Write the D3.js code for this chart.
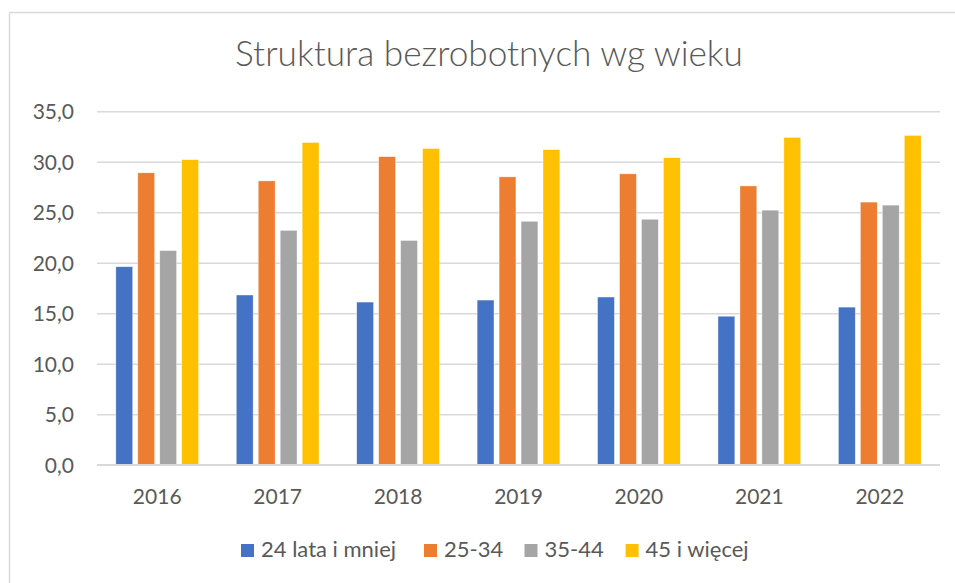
<!DOCTYPE html>
<html><head><meta charset="utf-8">
<script src="https://cdn.jsdelivr.net/npm/d3@7/dist/d3.min.js"></script>
<style>
html,body{margin:0;padding:0;background:#fff;}
svg{display:block;}
text{font-family:Lato,"Open Sans",sans-serif;fill:#595959;}
</style></head>
<body>
<svg id="chart" width="955" height="583"></svg>
<script>
const title = "Struktura bezrobotnych wg wieku";
const years = ["2016","2017","2018","2019","2020","2021","2022"];
const seriesNames = ["24 lata i mniej","25-34","35-44","45 i więcej"];
const seriesColors = ["#4472C4","#ED7D31","#A5A5A5","#FFC000"];
const s24 = [19.6,16.8,16.1,16.3,16.6,14.7,15.6];
const s25 = [28.9,28.1,30.5,28.5,28.8,27.6,26.0];
const s35 = [21.2,23.2,22.2,24.1,24.3,25.2,25.7];
const s45 = [30.2,31.9,31.3,31.2,30.4,32.4,32.6];
const yTicks = [0,5,10,15,20,25,30,35];

const seriesValues = [s24,s25,s35,s45];
const svg = d3.select("#chart");

// chart border (left and top visible)
svg.append("line").attr("x1",9.5).attr("x2",9.5).attr("y1",12.5).attr("y2",583).attr("stroke","#D9D9D9").attr("stroke-width",1.5);
svg.append("line").attr("x1",9.5).attr("x2",955).attr("y1",12.5).attr("y2",12.5).attr("stroke","#D9D9D9").attr("stroke-width",1.5);

const x0 = d3.scaleBand().domain(years).range([97,940]).paddingInner(0).paddingOuter(0);
const y = d3.scaleLinear().domain([0,35]).range([464.7,111.2]);

// gridlines
const yAxis = d3.axisLeft(y).tickValues(yTicks).tickSize(-(940-97)).tickFormat(d=>d3.format(".1f")(d).replace(".",","));
const gy = svg.append("g").attr("transform","translate(97,0)").call(yAxis);
gy.select(".domain").remove();
gy.selectAll(".tick line").attr("stroke","#D9D9D9").attr("stroke-width",1.5);
gy.selectAll(".tick text").attr("x",-23).attr("fill","#595959").style("font-size","21px").attr("dy","0.35em");

// bars
const groupW = 82.7;
const x1 = d3.scaleBand().domain(d3.range(seriesNames.length)).range([-groupW/2, groupW/2]).paddingInner(0.234).paddingOuter(0);
const data = [];
years.forEach((yr,i)=>seriesValues.forEach((vals,s)=>data.push({yr,s,v:vals[i]})));
svg.append("g").selectAll("rect").data(data).join("rect")
  .attr("x",d=>x0(d.yr)+x0.bandwidth()/2+x1(d.s))
  .attr("width",x1.bandwidth())
  .attr("y",d=>y(d.v))
  .attr("height",d=>y(0)-y(d.v))
  .attr("fill",d=>seriesColors[d.s])
  .attr("stroke","#fff").attr("stroke-width",0.6).attr("stroke-opacity",0.6);

// x axis
const xAxis = d3.axisBottom(x0).tickSize(0).tickPadding(0);
const gx = svg.append("g").attr("transform",`translate(0,${y(0)})`).call(xAxis);
gx.select(".domain").attr("stroke","#D9D9D9").attr("stroke-width",1.5).attr("d","M97,0H940");
gx.selectAll(".tick text").attr("y",39.5).attr("dy",0).attr("fill","#595959").style("font-size","21px");

// title
const t = svg.append("text").attr("x",489).attr("y",66).attr("text-anchor","middle")
  .style("font-weight",300).style("font-size","30px").attr("fill","#595959").text(title);
const tl = t.node().getComputedTextLength();
t.style("font-size",(30*508/tl)+"px");

// legend
const legendX = [241,424,524.5,625.6];
const lg = svg.append("g").selectAll("g").data(seriesNames).join("g")
  .attr("transform",(d,i)=>`translate(${legendX[i]},0)`);
lg.append("rect").attr("x",0).attr("y",544).attr("width",13).attr("height",13).attr("fill",(d,i)=>seriesColors[i]);
lg.append("text").attr("x",20).attr("y",557).style("font-size","22px").attr("fill","#595959").text(d=>d);
</script>
</body></html>
